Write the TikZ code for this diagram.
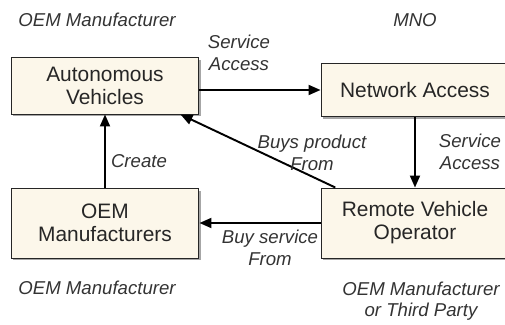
\documentclass[tikz,border=0pt]{standalone}
\usepackage{fontspec}
\setmainfont{Liberation Sans}
\usetikzlibrary{arrows.meta,shadows}
\definecolor{boxfill}{RGB}{252,247,234}
\begin{document}
\begin{tikzpicture}[x=0.02cm,y=-0.02cm]
\tikzset{box/.style={draw=black!85,line width=0.55pt,fill=boxfill,minimum width=3.76cm,align=center,text=black!85,font=\fontsize{11.9}{13}\selectfont,drop shadow={shadow xshift=0.04cm,shadow yshift=-0.05cm,opacity=0.35,fill=black}},
note/.style={align=center,inner sep=0pt,text=black!80,font=\fontsize{10.6}{12.2}\selectfont\itshape},
flow/.style={-{Triangle[length=0.24cm,width=0.2cm]},line width=1.1pt}}
\useasboundingbox (0,0) rectangle (505,325);
\clip (0,0) rectangle (505,325);
\node[box,minimum height=1.14cm] (av) at (105,85.5) {Autonomous\\Vehicles};
\node[box,minimum height=1.06cm] (na) at (415,90) {Network Access};
\node[box,minimum height=1.4cm] (oem) at (105,223) {OEM\\Manufacturers};
\node[box,minimum height=1.4cm] (rvo) at (415,223) {Remote Vehicle\\Operator};
\draw[flow] (av.east |- na.west) -- (na.west);
\draw[flow] (na.south) -- (rvo.north);
\draw[flow] (oem.north) -- (av.south);
\draw[flow] (rvo.west) -- (oem.east);
\draw[flow] (rvo.156) -- (av.-21);
\node[note] (oemtop) at (97,20) {OEM Manufacturer};
\node[note] (mno) at (415,20) {MNO};
\node[note] (svctop) at (239,53) {Service\\Access};
\node[note] (buys) at (312,153) {Buys product\\From};
\node[note] (create) at (139,161) {Create};
\node[note] (svcright) at (470,152) {Service\\Access};
\node[note] (buysvc) at (270,248) {Buy service\\From};
\node[note] (oembot) at (97,288) {OEM Manufacturer};
\node[note] (third) at (421,301) {OEM Manufacturer\\or Third Party};
\end{tikzpicture}
\end{document}
